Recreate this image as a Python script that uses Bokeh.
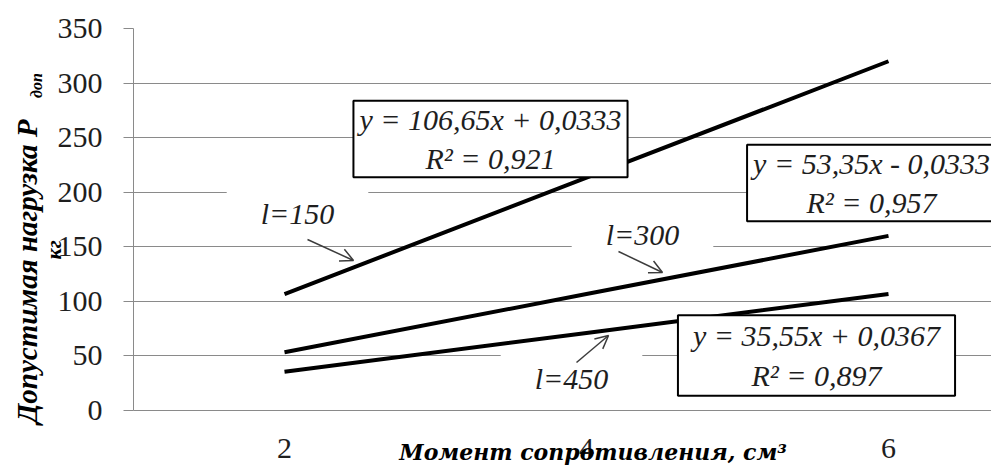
import math
from bokeh.plotting import figure
from bokeh.models import Label, Arrow, OpenHead, FixedTicker, Range1d
from bokeh.embed import file_html
from bokeh.resources import INLINE

# ---- data ----
moment = [2, 4, 6]                      # x categories (момент сопротивления, см³)
x_tick_labels = {2: "2", 4: "4", 6: "6"}
l150 = [106.7, 213.3, 320.0]
l300 = [53.3, 106.7, 160.0]
l450 = [35.6, 71.1, 106.7]
y_ticks = [0, 50, 100, 150, 200, 250, 300, 350]

eq150 = "y = 106,65x + 0,0333\nR² = 0,921"
eq300 = "y = 53,35x - 0,0333\nR² = 0,957"
eq450 = "y = 35,55x + 0,0367\nR² = 0,897"

NB = "\u00a0"

# ---- layout helpers (pixel -> data for annotation placement) ----
W, H = 991, 468
FL, FR, FT, FB = 133, 991, 28, 410
PXU = 151.0
X0 = 1.0


def X(px):
    return X0 + (px - FL) / PXU


def Y(py):
    return (FB - py) * 350.0 / (FB - FT)


p = figure(width=W, height=H,
           x_range=Range1d(X0, X0 + (FR - FL) / PXU), y_range=Range1d(0, 350),
           output_backend="svg", toolbar_location=None,
           min_border_left=FL, min_border_right=W - FR,
           min_border_top=FT, min_border_bottom=H - FB)
p.outline_line_color = None
p.background_fill_color = "white"
p.border_fill_color = "white"

GRID = "#8a8a8a"
TXT = "#1e1e1e"
SERIF = "Liberation Serif"

# axes
p.xgrid.visible = False
p.ygrid.grid_line_color = GRID
p.ygrid.grid_line_width = 1

p.yaxis.ticker = FixedTicker(ticks=y_ticks)
p.yaxis.axis_line_color = GRID
p.yaxis.major_tick_line_color = GRID
p.yaxis.major_tick_out = 10
p.yaxis.major_tick_in = 0
p.yaxis.minor_tick_line_color = None
p.yaxis.major_label_standoff = 21
p.yaxis.major_label_text_font = SERIF
p.yaxis.major_label_text_font_size = "30px"
p.yaxis.major_label_text_color = TXT
# second line of the y title ("кг")
p.yaxis.axis_label = "кг" + NB * 11
p.yaxis.axis_label_text_font = SERIF
p.yaxis.axis_label_text_font_style = "bold italic"
p.yaxis.axis_label_text_font_size = "22px"
p.yaxis.axis_label_text_color = "black"
p.yaxis.axis_label_standoff = -11

p.xaxis.ticker = FixedTicker(ticks=moment)
p.xaxis.major_label_overrides = x_tick_labels
p.xaxis.axis_line_color = GRID
p.xaxis.major_tick_line_color = None
p.xaxis.major_tick_out = 0
p.xaxis.major_tick_in = 0
p.xaxis.minor_tick_line_color = None
p.xaxis.major_label_standoff = 28
p.xaxis.major_label_text_font = SERIF
p.xaxis.major_label_text_font_size = "30px"
p.xaxis.major_label_text_color = TXT
p.xaxis.axis_label = NB * 8 + "Момент сопротивления, см³"
p.xaxis.axis_label_text_font = "DejaVu Serif"
p.xaxis.axis_label_text_font_style = "bold italic"
p.xaxis.axis_label_text_font_size = "22px"
p.xaxis.axis_label_text_color = "black"
p.xaxis.axis_label_standoff = -22

# series lines
for series in (l150, l300, l450):
    p.line(moment, series, line_color="black", line_width=4)

# curve labels with white backgrounds and arrows
lab_style = dict(text_font=SERIF, text_font_style="italic", text_font_size="30px",
                 text_color=TXT, text_align="center", text_baseline="middle",
                 background_fill_color="white")
for txt, cx, cy in (("l=150", 297, 213), ("l=300", 642, 234), ("l=450", 571, 378)):
    p.add_layout(Label(x=X(cx), y=Y(cy), text=txt,
                       padding=dict(left=34, right=34, top=8, bottom=8), **lab_style))

ARC = "#3c3c3c"
for (xs, ys, xe, ye) in ((307, 239, 353, 260), (618, 251, 662, 272), (576, 362, 608, 335)):
    p.add_layout(Arrow(x_start=X(xs), y_start=Y(ys), x_end=X(xe), y_end=Y(ye),
                       line_color=ARC, line_width=1.5,
                       end=OpenHead(size=13, line_color=ARC, line_width=1.5)))

# equation boxes
eq_style = dict(text_font=SERIF, text_font_style="italic", text_font_size="30px",
                text_color=TXT, text_align="center", text_baseline="middle",
                background_fill_color="white", border_line_color="black",
                border_line_width=2)
p.add_layout(Label(x=X(490), y=Y(138.5), text=eq150,
                   padding=dict(left=6, right=6, top=2, bottom=2), **eq_style))
p.add_layout(Label(x=X(871), y=Y(182.5), text=eq300,
                   padding=dict(left=6, right=6, top=2, bottom=2), **eq_style))
p.add_layout(Label(x=X(816), y=Y(355), text=eq450,
                   padding=dict(left=15, right=15, top=4, bottom=4), **eq_style))

# main part of the y title and its subscript (side panels -> not clipped)
ttl = dict(text_font=SERIF, text_font_style="bold italic", text_color="black",
           text_align="center", text_baseline="middle", angle=math.pi / 2)
p.add_layout(Label(x=X(26), y=Y(271), text="Допустимая нагрузка P",
                   text_font_size="29px", **ttl), "left")
p.add_layout(Label(x=X(36), y=Y(85), text="доп", text_font_size="16px", **ttl), "above")

open("out.html", "w").write(file_html(p, INLINE))
